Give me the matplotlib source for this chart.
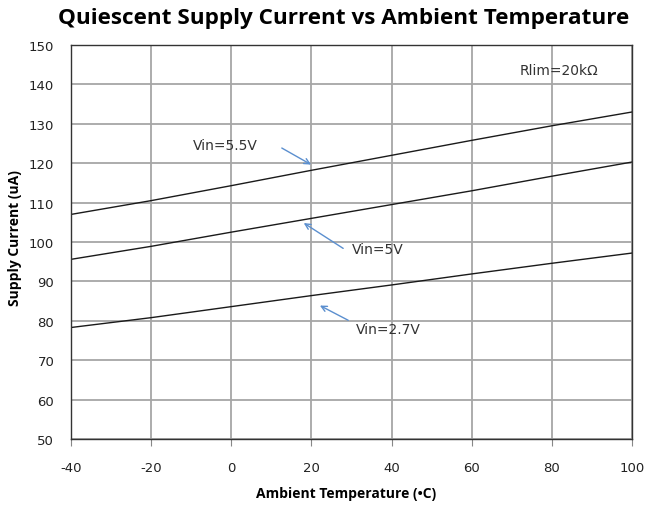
import matplotlib.pyplot as plt

plt.rcParams['axes.unicode_minus'] = False

temps = [-40, -20, 0, 20, 40, 60, 80, 100]
i_55 = [107.0, 110.5, 114.3, 118.2, 122.0, 125.8, 129.5, 133.0]
i_50 = [95.6, 98.9, 102.5, 106.0, 109.5, 113.0, 116.7, 120.3]
i_27 = [78.3, 80.8, 83.6, 86.4, 89.1, 91.9, 94.6, 97.2]

x_ticks = [-40, -20, 0, 20, 40, 60, 80, 100]
y_ticks = [50, 60, 70, 80, 90, 100, 110, 120, 130, 140, 150]

fig = plt.figure(figsize=(6.45, 5.06), dpi=100)
ax = fig.add_axes([0.110, 0.1304, 0.870, 0.7787])

for ys in (i_55, i_50, i_27):
    ax.plot(temps, ys, color='#1a1a1a', lw=1.0)

ax.set_xlim(-40, 100)
ax.set_ylim(50, 150)
ax.set_xticks(x_ticks)
ax.set_yticks(y_ticks)
ax.grid(True, color='#a6a6a6', lw=1.3)
ax.set_axisbelow(True)
for s in ax.spines.values():
    s.set_color('#333333')
    s.set_linewidth(1.0)

ax.tick_params(axis='x', direction='out', length=5, color='#888888', pad=11,
               labelsize=9.5, labelcolor='#222222')
ax.tick_params(axis='y', length=0, pad=12, labelsize=9.5, labelcolor='#222222')

arrow = dict(arrowstyle='->', color='#5b8fcf', lw=1.0)
txt = dict(fontsize=10, color='#333333', family='DejaVu Sans')
ax.annotate('', xy=(20.5, 119.3), xytext=(12, 124.2), arrowprops=arrow)
ax.text(-9.5, 124.5, 'Vin=5.5V', va='center', **txt)
ax.annotate('', xy=(17.5, 105.2), xytext=(28.5, 98.0), arrowprops=arrow)
ax.text(30, 98.3, 'Vin=5V', va='center', **txt)
ax.annotate('', xy=(21.5, 84.2), xytext=(29.8, 79.8), arrowprops=arrow)
ax.text(31.2, 78.0, 'Vin=2.7V', va='center', **txt)
ax.text(72, 143.7, 'Rlim=20k\u03a9', va='center', **txt)

fig.text(0.533, 0.964, 'Quiescent Supply Current vs Ambient Temperature',
         ha='center', va='center', fontsize=16.2, fontweight='bold', family='Open Sans')
fig.text(0.536, 0.024, 'Ambient Temperature (\u2022C)', ha='center', va='center',
         fontsize=10, fontweight='bold', family='Open Sans')
fig.text(0.024, 0.53, 'Supply Current (uA)', ha='center', va='center', rotation=90,
         fontsize=10, fontweight='bold', family='Open Sans')

fig.savefig('out.png', dpi=100)
